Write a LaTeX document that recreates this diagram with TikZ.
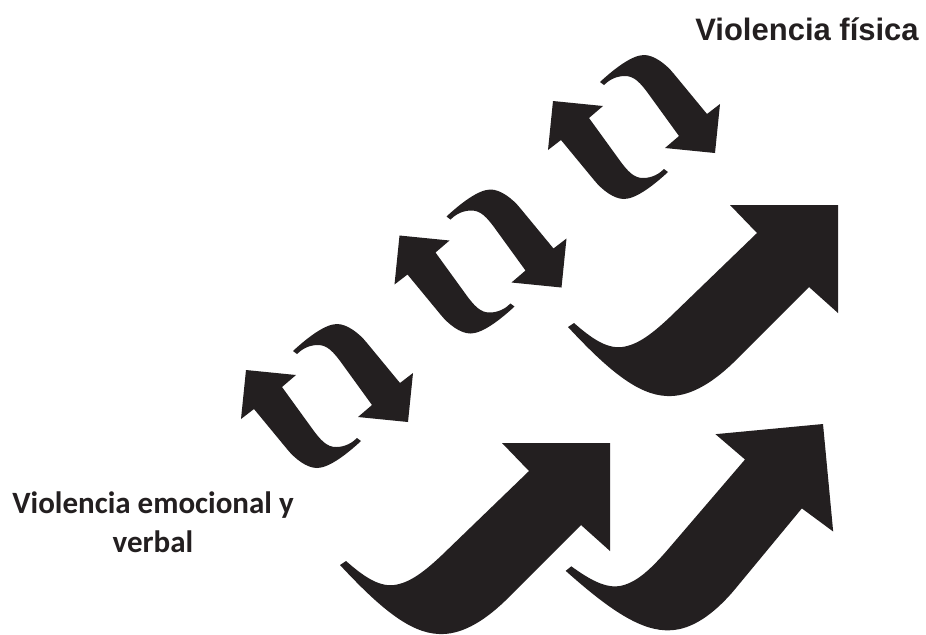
\documentclass[tikz,border=0pt]{standalone}
\usepackage{fontspec}
\newfontfamily\carlitoFont{Carlito}
\newfontfamily\liberationFont{Liberation Sans}
\definecolor{inkBlack}{HTML}{231F20}

\begin{document}
\begin{tikzpicture}
[x=0.5pt,y=-0.5pt,
  arrowDecorate/.style={fill=inkBlack,draw=none},
  labelDecorate/.style={text=inkBlack,align=center,anchor=base,inner sep=0pt},
  riseArrow/.pic={
    \path[arrowDecorate] (-270,122) -- (-264,118)
      .. controls (-248,132) and (-232,144) .. (-216,142)
      .. controls (-200,140) and (-185,128) .. (-168,112)
      -- (-81,28) -- (-108,0) -- (0,0) -- (0,108) -- (-29,82) -- (-105,158)
      .. controls (-128,180) and (-150,192) .. (-171,191)
      .. controls (-200,190) and (-230,165) .. (-270,122) -- cycle;
  },
  turnArrow/.pic={
    \path[arrowDecorate] (-34,-45)
      .. controls (-20,-58) and (-2,-72) .. (10,-72)
      .. controls (20,-72) and (32,-63) .. (40,-53)
      -- (73,-13) -- (86,-23) -- (81,26) -- (31,21) -- (45,9) -- (16,-31)
      .. controls (6,-45) and (0,-51) .. (-9,-51)
      .. controls (-18,-51) and (-25,-47) .. (-30,-42) -- cycle;
  }]
\path[use as bounding box,fill=white] (0,0) rectangle (926,634);
%% rising arrows
\foreach \arrowname/\x/\y/\angle in {
  riseTop/838/205/0, riseLow/610/443/0, riseRight/823/424/5.4}
{
  \pic[rotate=\angle] (\arrowname) at (\x,\y) {riseArrow};
}
%% turning pairs
\foreach \pairname/\x/\y in {
  turnOne/327/396, turnTwo/480.5/261.5, turnThree/634/127}
{
  \pic (\pairname a) at (\x,\y) {turnArrow};
  \pic[rotate=180] (\pairname b) at (\x,\y) {turnArrow};
}
%% labels (base = last line)
\node (physLabel) at (807,40) [labelDecorate,
  font=\liberationFont\bfseries\fontsize{15.5}{18}\selectfont] {Violencia física};
\node (emoLabel) at (153,552) [labelDecorate,
  font=\carlitoFont\bfseries\fontsize{15.5}{19.5}\selectfont] {Violencia emocional y\\verbal};
\end{tikzpicture}
\end{document}
